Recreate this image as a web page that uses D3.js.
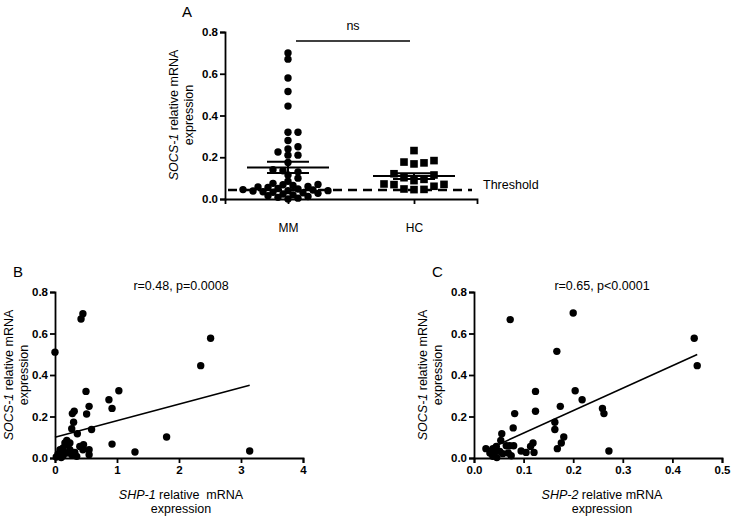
<!DOCTYPE html>
<html>
<head>
<meta charset="utf-8">
<script src="https://cdn.jsdelivr.net/npm/d3@7"></script>
<style>
body { margin: 0; background: #fff; }
svg { font-family: Arial, "Liberation Sans", sans-serif; }
.axis path, .axis line { stroke: #000; stroke-width: 1.8; }
.axis text { font-size: 11.5px; font-weight: bold; fill: #000; }
.cat text { font-weight: normal; font-size: 12px; }
.lbl { font-size: 12.5px; fill: #000; }
.panel { font-size: 15px; fill: #000; }
</style>
</head>
<body>
<svg width="733" height="517"></svg>
<script>
// ---- data ----
// Panel A: SOCS-1 expression in myeloma patients (MM) vs healthy controls (HC)
var groups = ['MM', 'HC'];
var mmValues = [0.70, 0.67, 0.58, 0.515, 0.445, 0.32, 0.32, 0.28, 0.25, 0.24, 0.225, 0.21, 0.21,
    0.175, 0.14, 0.135, 0.13, 0.115, 0.10, 0.085, 0.075, 0.07, 0.068, 0.065, 0.06, 0.058, 0.055,
    0.05, 0.048, 0.045, 0.043, 0.04, 0.04, 0.038, 0.035, 0.032, 0.03, 0.027, 0.024, 0.02,
    0.016, 0.012, 0.008, 0.004, 0.0];
var hcValues = [0.232, 0.184, 0.177, 0.173, 0.168, 0.121, 0.115, 0.102, 0.094, 0.088, 0.072,
    0.070, 0.069, 0.061, 0.048, 0.046, 0.045];
var threshold = 0.043;
var yTicks = [0, 0.2, 0.4, 0.6, 0.8];

// Panel B: SHP-1 vs SOCS-1
var shp1 = [0.0, 0.45, 0.42, 2.51, 2.35, 0.50, 1.03, 0.87, 0.55, 0.92, 0.31, 0.28, 0.51, 0.30,
    0.27, 0.59, 0.36, 1.80, 0.92, 1.29, 3.14, 0.19, 0.16, 0.21, 0.13, 0.08, 0.24, 0.05, 0.13,
    0.19, 0.32, 0.35, 0.40, 0.45, 0.46, 0.55, 0.55, 0.27, 0.11, 0.24, 0.02, 0.10];
var socsB = [0.51, 0.695, 0.67, 0.577, 0.445, 0.321, 0.324, 0.281, 0.249, 0.239, 0.225, 0.214,
    0.212, 0.172, 0.141, 0.137, 0.117, 0.101, 0.067, 0.029, 0.034, 0.085, 0.072, 0.064, 0.048,
    0.04, 0.04, 0.019, 0.011, 0.024, 0.027, 0.008, 0.056, 0.04, 0.064, 0.04, 0.016, 0.016,
    0.027, 0.072, 0.005, 0.002];
var fitB = [0.100, 0.0797];   // intercept, slope
var xTicksB = [0, 1, 2, 3, 4];

// Panel C: SHP-2 vs SOCS-1
var shp2 = [0.073, 0.20, 0.444, 0.450, 0.167, 0.124, 0.204, 0.218, 0.174, 0.259, 0.262, 0.082,
    0.124, 0.163, 0.079, 0.163, 0.056, 0.181, 0.176, 0.168, 0.054, 0.119, 0.114, 0.121, 0.272,
    0.095, 0.105, 0.024, 0.038, 0.044, 0.032, 0.038, 0.046, 0.058, 0.065, 0.072, 0.080, 0.069,
    0.075, 0.045, 0.052];
var socsC = [0.667, 0.699, 0.577, 0.445, 0.514, 0.321, 0.324, 0.281, 0.249, 0.239, 0.214, 0.214,
    0.225, 0.172, 0.145, 0.137, 0.117, 0.101, 0.072, 0.045, 0.084, 0.072, 0.056, 0.027, 0.034,
    0.034, 0.027, 0.045, 0.045, 0.032, 0.024, 0.008, 0.002, 0.021, 0.059, 0.059, 0.059, 0.024,
    0.011, 0.056, 0.032];
var fitC = [0.0115, 1.083];
var xTicksC = [0, 0.1, 0.2, 0.3, 0.4, 0.5];

var svg = d3.select('svg');

// simple beeswarm: lowest values first, each point as close to the centre as it fits
function swarm(values, y, cx, step, minDist) {
    var placed = [];
    values.slice().sort(d3.ascending).forEach(function(v) {
        var py = y(v);
        for (var k = 0; k < 60; k++) {
            var off = (k % 2 === 1 ? 1 : -1) * Math.ceil(k / 2) * step;
            var px = cx + off;
            var hit = placed.some(function(p) {
                return Math.hypot(p.x - px, p.y - py) < minDist;
            });
            if (!hit) { placed.push({v: v, x: px, y: py}); break; }
        }
    });
    return placed;
}

function yTitle(x, yc) {
    var t = svg.append('text').attr('class', 'lbl').attr('text-anchor', 'middle')
        .attr('transform', 'translate(' + [x, yc] + ') rotate(-90)');
    t.append('tspan').attr('font-style', 'italic').text('SOCS-1');
    t.append('tspan').text(' relative mRNA');
    svg.append('text').attr('class', 'lbl').attr('text-anchor', 'middle')
        .attr('transform', 'translate(' + [x + 15, yc] + ') rotate(-90)')
        .text('expression');
}

// ---- Panel A ----
var xA = d3.scalePoint().domain(groups).range([225, 477]).padding(0.5);
var yA = d3.scaleLinear().domain([0, 0.8]).range([199, 32]);

svg.append('g').attr('class', 'axis')
    .attr('transform', 'translate(225,0)')
    .call(d3.axisLeft(yA).tickValues(yTicks).tickFormat(d3.format('.1f')).tickSizeOuter(0).tickSize(5).tickPadding(2));
svg.append('g').attr('class', 'axis cat')
    .attr('transform', 'translate(0,199)')
    .call(d3.axisBottom(xA).tickSizeOuter(0).tickSize(5).tickPadding(19));

var mmPts = swarm(mmValues, yA, xA('MM'), 5, 6);
svg.append('g').selectAll('circle').data(mmPts).enter().append('circle')
    .attr('cx', d => d.x).attr('cy', d => d.y).attr('r', 3.7).attr('fill', '#000');

var hcPts = swarm(hcValues, yA, xA('HC'), 5, 8.5);
svg.append('g').selectAll('rect').data(hcPts).enter().append('rect')
    .attr('x', d => d.x - 3.8).attr('y', d => d.y - 3.8)
    .attr('width', 7.6).attr('height', 7.6).attr('fill', '#000');

// threshold line, on top of the points
svg.append('line')
    .attr('x1', 228).attr('x2', 472)
    .attr('y1', yA(threshold)).attr('y2', yA(threshold))
    .attr('stroke', '#000').attr('stroke-width', 2.5).attr('stroke-dasharray', '9,6');

// mean and SEM
[[ 'MM', mmValues ], [ 'HC', hcValues ]].forEach(function(g) {
    var cx = xA(g[0]);
    var m = d3.mean(g[1]);
    var sem = d3.deviation(g[1]) / Math.sqrt(g[1].length);
    var s = svg.append('g').attr('stroke', '#000').attr('stroke-width', 2);
    s.append('line').attr('x1', cx - 41).attr('x2', cx + 41).attr('y1', yA(m)).attr('y2', yA(m));
    s.append('line').attr('x1', cx - 21).attr('x2', cx + 21).attr('y1', yA(m + sem)).attr('y2', yA(m + sem));
    s.append('line').attr('x1', cx - 21).attr('x2', cx + 21).attr('y1', yA(m - sem)).attr('y2', yA(m - sem));
    s.append('line').attr('x1', cx).attr('x2', cx).attr('y1', yA(m + sem)).attr('y2', yA(m - sem));
});

// significance bar
svg.append('line').attr('x1', 296).attr('x2', 410).attr('y1', 41).attr('y2', 41)
    .attr('stroke', '#000').attr('stroke-width', 1.5);
svg.append('text').attr('class', 'lbl').attr('x', 353).attr('y', 30)
    .attr('text-anchor', 'middle').text('ns');
svg.append('text').attr('class', 'lbl').attr('x', 483).attr('y', 189).text('Threshold');
svg.append('text').attr('class', 'panel').attr('x', 182).attr('y', 17).text('A');
yTitle(177.5, 115);

// ---- scatter panels ----
function scatter(xs, ys, fit, xTicks, xFmt, x0, x1, label, stat, xName, titleX) {
    var x = d3.scaleLinear().domain([xTicks[0], xTicks[xTicks.length - 1]]).range([x0, x1]);
    var y = d3.scaleLinear().domain([0, 0.8]).range([458, 292]);
    svg.append('g').attr('class', 'axis')
        .attr('transform', 'translate(' + x0 + ',0)')
        .call(d3.axisLeft(y).tickValues(yTicks).tickFormat(d3.format('.1f')).tickSizeOuter(0).tickSize(5).tickPadding(2));
    svg.append('g').attr('class', 'axis')
        .attr('transform', 'translate(0,458)')
        .call(d3.axisBottom(x).tickValues(xTicks).tickFormat(xFmt).tickSizeOuter(0).tickSize(5).tickPadding(3));

    var pts = xs.map((d, i) => [d, ys[i]]);
    svg.append('g').selectAll('circle').data(pts).enter().append('circle')
        .attr('cx', d => x(d[0])).attr('cy', d => y(d[1])).attr('r', 3.7).attr('fill', '#000');

    var ext = d3.extent(xs);
    svg.append('line')
        .attr('x1', x(ext[0])).attr('y1', y(fit[0] + fit[1] * ext[0]))
        .attr('x2', x(ext[1])).attr('y2', y(fit[0] + fit[1] * ext[1]))
        .attr('stroke', '#000').attr('stroke-width', 1.6);

    svg.append('text').attr('class', 'panel').attr('x', x0 - 42).attr('y', 277).text(label);
    svg.append('text').attr('class', 'lbl').attr('x', titleX).attr('y', 290)
        .attr('text-anchor', 'middle').text(stat);
    var t = svg.append('text').attr('class', 'lbl').attr('x', titleX).attr('y', 499)
        .attr('text-anchor', 'middle').style('white-space', 'pre');
    t.append('tspan').attr('font-style', 'italic').text(xName[0]);
    t.append('tspan').text(xName[1]);
    svg.append('text').attr('class', 'lbl').attr('x', titleX).attr('y', 513)
        .attr('text-anchor', 'middle').text('expression');
}

scatter(shp1, socsB, fitB, xTicksB, d3.format('d'), 55, 303, 'B', 'r=0.48, p=0.0008',
    ['SHP-1', ' relative  mRNA'], 181);
yTitle(12.5, 375);

scatter(shp2, socsC, fitC, xTicksC, d3.format('.1f'), 474, 722, 'C', 'r=0.65, p<0.0001',
    ['SHP-2', ' relative mRNA'], 602);
yTitle(426.5, 375);
</script>
</body>
</html>
